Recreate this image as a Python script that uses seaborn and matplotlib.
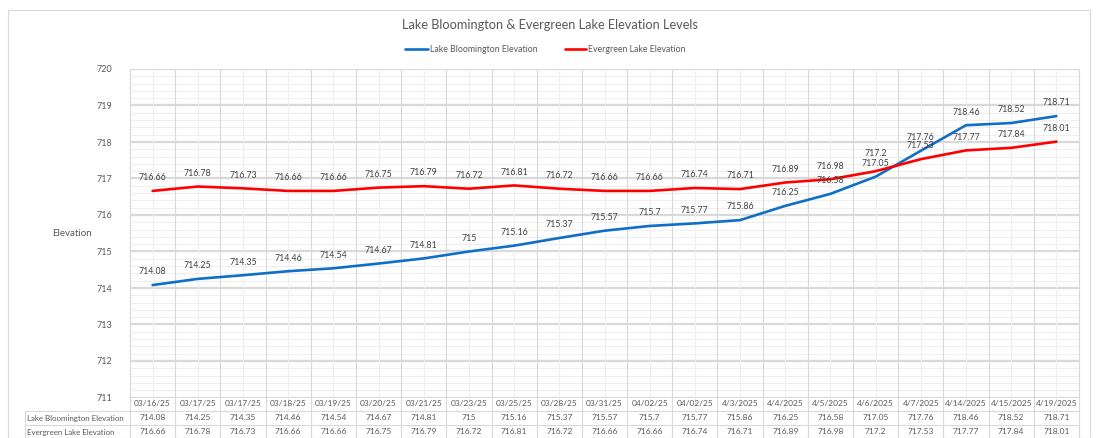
import numpy as np
import pandas as pd
import matplotlib
matplotlib.use("Agg")
import matplotlib.pyplot as plt
import matplotlib.transforms as mtransforms
import seaborn as sns

# Data
dates = ["03/16/25", "03/17/25", "03/17/25", "03/18/25", "03/19/25", "03/20/25",
         "03/21/25", "03/23/25", "03/25/25", "03/28/25", "03/31/25", "04/02/25",
         "04/02/25", "4/3/2025", "4/4/2025", "4/5/2025", "4/6/2025", "4/7/2025",
         "4/14/2025", "4/15/2025", "4/19/2025"]
bloomington = [714.08, 714.25, 714.35, 714.46, 714.54, 714.67, 714.81, 715, 715.16,
               715.37, 715.57, 715.7, 715.77, 715.86, 716.25, 716.58, 717.05, 717.76,
               718.46, 718.52, 718.71]
evergreen = [716.66, 716.78, 716.73, 716.66, 716.66, 716.75, 716.79, 716.72, 716.81,
             716.72, 716.66, 716.66, 716.74, 716.71, 716.89, 716.98, 717.2, 717.53,
             717.77, 717.84, 718.01]
series_names = ["Lake Bloomington Elevation", "Evergreen Lake Elevation"]
colors = ["#0F6FC6", "#FF0000"]

W, H = 1099, 438
TXT = "#595959"
MAJOR = "#d9d9d9"
MINOR = "#efefef"
SMALL = 6.0

sns.set_theme(style="white")
plt.rcParams['font.family'] = ['Lato', 'DejaVu Sans']

fig = plt.figure(figsize=(W / 100, H / 100), dpi=100)
fig.patch.set_facecolor("white")

# pixel layout of the plot area
left, right, top, bottom = 130, 1079, 69, 397.5
ax = fig.add_axes([left / W, 1 - bottom / H, (right - left) / W, (bottom - top) / H])

n = len(dates)
df = pd.DataFrame({
    "x": list(range(n)) * 2,
    "value": bloomington + evergreen,
    "series": [series_names[0]] * n + [series_names[1]] * n,
})

# gridlines
for v in np.arange(711, 720.01, 0.2):
    is_major = abs(v - round(v)) < 1e-6
    ax.axhline(v, color=MAJOR if is_major else MINOR, lw=1.6 if is_major else 0.8, zorder=0)

sns.lineplot(data=df, x="x", y="value", hue="series", palette=colors,
             linewidth=1.9, legend=False, ax=ax, zorder=3)

ax.set_xlim(-0.5, n - 0.5)
ax.set_ylim(711, 720)
ax.set_xticks([])
ax.set_yticks(range(711, 721))
ax.set_yticklabels([str(v) for v in range(711, 721)], fontsize=6.5, color=TXT)
ax.tick_params(axis="y", length=0, pad=13)
ax.set_xlabel("")
ax.set_ylabel("")
for s in ax.spines.values():
    s.set_visible(False)

# data labels above each point (the crowded 717.2 label lifted a little)
for vals in (bloomington, evergreen):
    for i, v in enumerate(vals):
        dy = 9.5
        if vals is evergreen and i == 16:
            dy = 12.5
        ax.annotate(f"{v:g}", (i, v), xytext=(0, dy), textcoords="offset points",
                    ha="center", va="center", fontsize=6.3, color="#404040", zorder=4)

# vertical grid lines extending down through the data table
trans = mtransforms.blended_transform_factory(ax.transData, fig.transFigure)

def fy(px):
    return 1 - px / H

for k in range(n + 1):
    xb = k - 0.5
    ax.plot([xb, xb], [fy(top), fy(H)], transform=trans, color=MAJOR, lw=0.8,
            clip_on=False, zorder=1)
for k in range(n):
    ax.plot([k, k], [fy(top), fy(411)], transform=trans, color=MINOR, lw=0.8,
            clip_on=False, zorder=1)

# table horizontal lines
for yp in (411, 424.5):
    fig.add_artist(plt.Line2D([25 / W, right / W], [fy(yp), fy(yp)], color=MAJOR, lw=0.8))
fig.add_artist(plt.Line2D([25 / W, 25 / W], [fy(411), fy(H)], color=MAJOR, lw=0.8))

# category labels and table values
for i, d in enumerate(dates):
    ax.text(i, fy(404), d, transform=trans, ha="center", va="center", fontsize=SMALL, color=TXT)
    ax.text(i, fy(418), f"{bloomington[i]:g}", transform=trans, ha="center", va="center",
            fontsize=SMALL, color=TXT)
    ax.text(i, fy(432), f"{evergreen[i]:g}", transform=trans, ha="center", va="center",
            fontsize=SMALL, color=TXT)
fig.text(27 / W, fy(418), series_names[0], ha="left", va="center", fontsize=5.7, color=TXT)
fig.text(27 / W, fy(432), series_names[1], ha="left", va="center", fontsize=5.7, color=TXT)

# title, axis title, legend
fig.text(550 / W, fy(25), "Lake Bloomington & Evergreen Lake Elevation Levels",
         ha="center", va="center", fontsize=9.2, color=TXT)
fig.text(72 / W, fy(234), "Elevation", ha="center", va="center", fontsize=7, color=TXT)

legend_items = [(405, 430, series_names[0], colors[0]), (565, 588, series_names[1], colors[1])]
for x0, xt, name, c in legend_items:
    fig.add_artist(plt.Line2D([x0 / W, (xt - 2) / W], [fy(49), fy(49)], color=c, lw=1.9))
    fig.text(xt / W, fy(49), name, ha="left", va="center", fontsize=6.3, color=TXT)

# outer chart border
fig.add_artist(plt.Rectangle((8 / W, 0), (1090 - 8) / W, fy(10), fill=False,
                             edgecolor=MAJOR, lw=0.8))

fig.savefig("out.png", dpi=100, facecolor="white")
